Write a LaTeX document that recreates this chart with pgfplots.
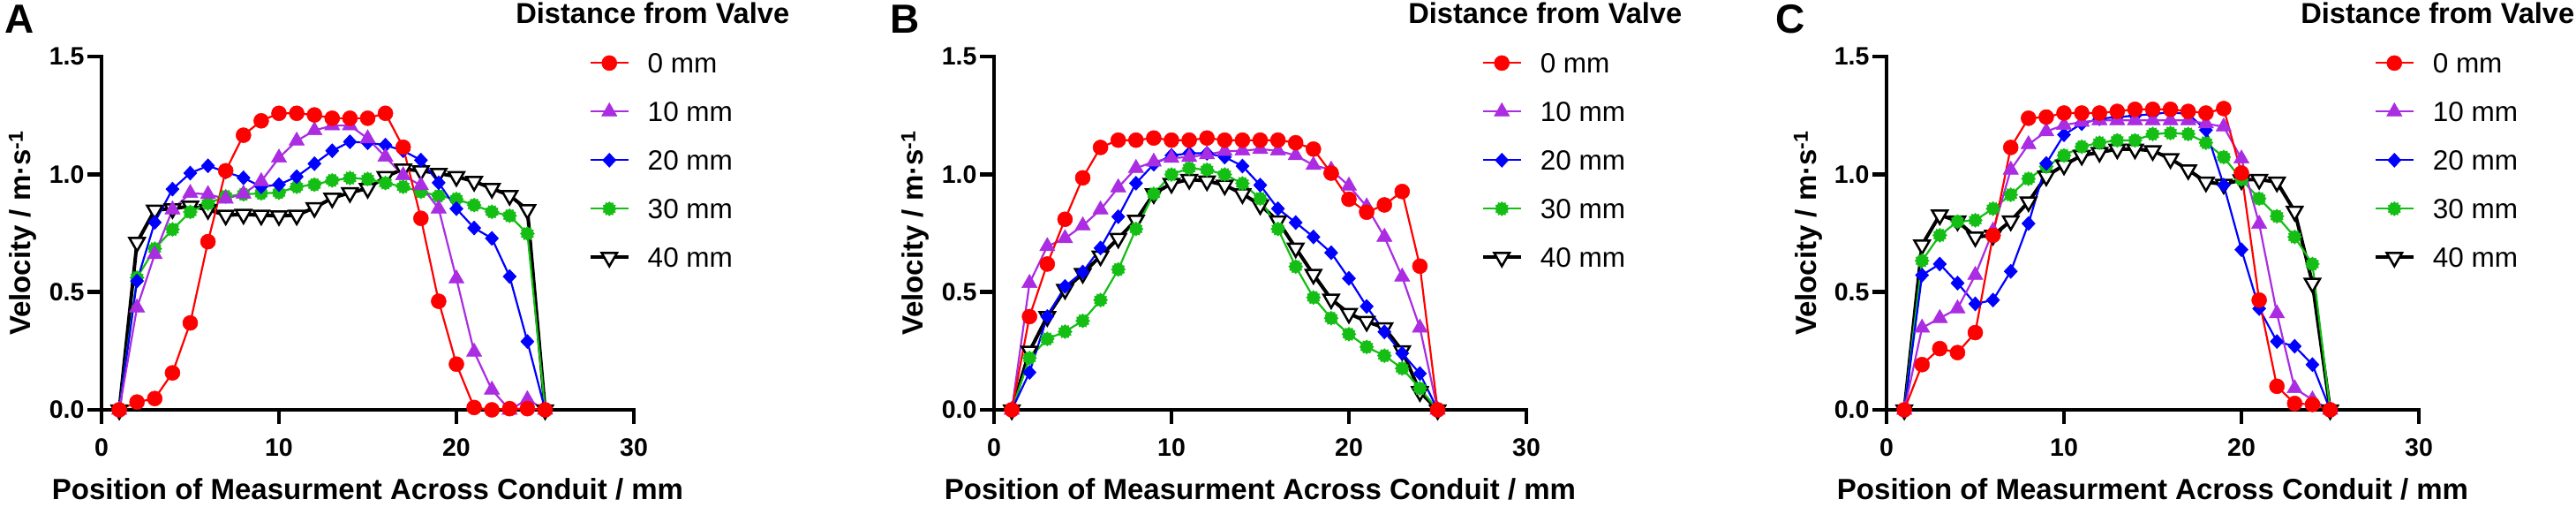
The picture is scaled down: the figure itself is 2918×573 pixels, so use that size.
\documentclass[border=0pt]{standalone}
\usepackage{pgfplots}
\usepackage{pgfplotstable}
\pgfplotsset{compat=1.18}
\usepackage{fontspec}
\setmainfont{Liberation Sans}
\definecolor{cred}{RGB}{255,0,0}
\definecolor{cpur}{RGB}{170,45,225}
\definecolor{cblu}{RGB}{0,0,255}
\definecolor{cgrn}{RGB}{20,190,20}

\pgfdeclareplotmark{burst}{%
  \pgfpathmoveto{\pgfpointpolar{0}{\pgfplotmarksize}}%
  \pgfpathlineto{\pgfpointpolar{15}{0.8\pgfplotmarksize}}%
  \pgfpathlineto{\pgfpointpolar{30}{\pgfplotmarksize}}%
  \pgfpathlineto{\pgfpointpolar{45}{0.8\pgfplotmarksize}}%
  \pgfpathlineto{\pgfpointpolar{60}{\pgfplotmarksize}}%
  \pgfpathlineto{\pgfpointpolar{75}{0.8\pgfplotmarksize}}%
  \pgfpathlineto{\pgfpointpolar{90}{\pgfplotmarksize}}%
  \pgfpathlineto{\pgfpointpolar{105}{0.8\pgfplotmarksize}}%
  \pgfpathlineto{\pgfpointpolar{120}{\pgfplotmarksize}}%
  \pgfpathlineto{\pgfpointpolar{135}{0.8\pgfplotmarksize}}%
  \pgfpathlineto{\pgfpointpolar{150}{\pgfplotmarksize}}%
  \pgfpathlineto{\pgfpointpolar{165}{0.8\pgfplotmarksize}}%
  \pgfpathlineto{\pgfpointpolar{180}{\pgfplotmarksize}}%
  \pgfpathlineto{\pgfpointpolar{195}{0.8\pgfplotmarksize}}%
  \pgfpathlineto{\pgfpointpolar{210}{\pgfplotmarksize}}%
  \pgfpathlineto{\pgfpointpolar{225}{0.8\pgfplotmarksize}}%
  \pgfpathlineto{\pgfpointpolar{240}{\pgfplotmarksize}}%
  \pgfpathlineto{\pgfpointpolar{255}{0.8\pgfplotmarksize}}%
  \pgfpathlineto{\pgfpointpolar{270}{\pgfplotmarksize}}%
  \pgfpathlineto{\pgfpointpolar{285}{0.8\pgfplotmarksize}}%
  \pgfpathlineto{\pgfpointpolar{300}{\pgfplotmarksize}}%
  \pgfpathlineto{\pgfpointpolar{315}{0.8\pgfplotmarksize}}%
  \pgfpathlineto{\pgfpointpolar{330}{\pgfplotmarksize}}%
  \pgfpathlineto{\pgfpointpolar{345}{0.8\pgfplotmarksize}}%
  \pgfpathclose
  \pgfusepathqfillstroke
}

\pgfplotstableread{
x r p b g k
1 0 0 0 0 0
2 0.033 0.434 0.547 0.561 0.711
3 0.048 0.66 0.796 0.684 0.848
4 0.157 0.85 0.937 0.766 0.854
5 0.369 0.92 1.005 0.84 0.865
6 0.714 0.915 1.036 0.876 0.85
7 1.015 0.896 1.01 0.906 0.826
8 1.166 0.917 0.985 0.915 0.83
9 1.227 0.97 0.947 0.919 0.826
10 1.259 1.07 0.956 0.922 0.824
11 1.259 1.142 0.99 0.947 0.826
12 1.252 1.186 1.045 0.956 0.858
13 1.238 1.207 1.1 0.974 0.899
14 1.238 1.207 1.138 0.984 0.922
15 1.238 1.152 1.134 0.98 0.94
16 1.259 1.074 1.124 0.963 0.99
17 1.115 0.995 1.10 0.947 1.022
18 0.813 0.953 1.06 0.926 1.015
19 0.461 0.854 0.964 0.908 1.004
20 0.194 0.557 0.854 0.895 0.99
21 0.01 0.246 0.772 0.869 0.97
22 0 0.085 0.728 0.841 0.94
23 0.005 0 0.566 0.824 0.91
24 0.005 0.044 0.29 0.748 0.85
25 0 0 0 0 0
}\dataA

\pgfplotstableread{
x r p b g k
1 0 0 0 0 0
2 0.396 0.538 0.159 0.22 0.249
3 0.619 0.694 0.396 0.301 0.396
4 0.809 0.728 0.524 0.332 0.511
5 0.985 0.782 0.585 0.378 0.579
6 1.114 0.85 0.687 0.466 0.653
7 1.145 0.944 0.82 0.596 0.728
8 1.145 1.026 0.962 0.768 0.805
9 1.154 1.053 1.043 0.917 0.917
10 1.145 1.069 1.08 0.999 0.961
11 1.145 1.073 1.089 1.026 0.978
12 1.154 1.084 1.089 1.019 0.972
13 1.145 1.098 1.073 0.999 0.954
14 1.145 1.1 1.035 0.961 0.917
15 1.145 1.107 0.954 0.897 0.87
16 1.145 1.1 0.854 0.768 0.802
17 1.134 1.08 0.795 0.608 0.687
18 1.107 1.039 0.734 0.477 0.575
19 1.005 1.019 0.667 0.389 0.47
20 0.894 0.951 0.558 0.321 0.409
21 0.839 0.863 0.439 0.267 0.375
22 0.87 0.734 0.331 0.23 0.348
23 0.927 0.565 0.24 0.176 0.251
24 0.61 0.348 0.154 0.091 0.077
25 0 0 0 0 0
}\dataB

\pgfplotstableread{
x r p b g k
1 0 0 0 0 0
2 0.192 0.348 0.572 0.633 0.70
3 0.26 0.389 0.619 0.741 0.827
4 0.243 0.43 0.538 0.799 0.802
5 0.328 0.572 0.45 0.805 0.734
6 0.741 0.76 0.466 0.854 0.741
7 1.114 1.019 0.588 0.913 0.802
8 1.238 1.127 0.791 0.981 0.883
9 1.243 1.182 1.046 1.033 0.992
10 1.26 1.209 1.168 1.08 1.039
11 1.26 1.222 1.215 1.117 1.08
12 1.26 1.229 1.236 1.134 1.093
13 1.267 1.229 1.243 1.144 1.107
14 1.276 1.229 1.249 1.144 1.107
15 1.276 1.229 1.256 1.171 1.10
16 1.276 1.229 1.263 1.175 1.066
17 1.267 1.229 1.256 1.171 1.019
18 1.26 1.215 1.188 1.134 0.967
19 1.279 1.202 0.954 1.073 0.958
20 1.005 1.066 0.68 0.978 0.976
21 0.466 0.789 0.43 0.897 0.978
22 0.10 0.409 0.29 0.822 0.967
23 0.027 0.091 0.27 0.734 0.843
24 0.023 0.043 0.192 0.619 0.538
25 0 0 0 0 0
}\dataC

\pgfplotsset{
  panel/.style={
    scale only axis, width=603pt, height=400pt,
    anchor=south west,
    xmin=0, xmax=30, ymin=0, ymax=1.5,
    axis lines=left,
    axis line style={-, line width=4.5pt, line cap=rect},
    xtick={0,10,20,30}, ytick={0,0.5,1,1.5},
    tick align=outside, major tick length=16pt,
    every tick/.style={black, line width=4.5pt},
    /pgf/number format/assume math mode=true,
    tick label style={font=\bfseries\fontsize{28.5}{28.5}\selectfont},
    xticklabel style={yshift=-13pt},
    yticklabel style={/pgf/number format/.cd, fixed, fixed zerofill, precision=1},
    clip=false,
    xlabel={Position of Measurment Across Conduit / mm},
    ylabel={Velocity / m·s\textsuperscript{-1}},
    label style={font=\bfseries\fontsize{33}{33}\selectfont},
    xlabel style={at={(axis description cs:0.5,-0.2525)}, anchor=base},
    ylabel style={at={(axis description cs:-0.1327,0.5)}, anchor=base},
    legend style={at={(axis description cs:0.915,1.009)}, anchor=north west,
      draw=none, fill=none, inner sep=0pt, outer sep=0pt, row sep=33pt,
      font=\fontsize{31.5}{31.5}\selectfont,
      nodes={inner sep=0pt, text height=22pt, text depth=0pt},
      /tikz/every odd column/.append style={column sep=20pt}},
    legend cell align=left,
    reverse legend,
    legend image code/.code={\draw[mark repeat=2,mark phase=2,#1] plot coordinates {(0pt,0pt) (21.5pt,0pt) (43pt,0pt)};},
  },
  s40/.style={black, line width=4pt, mark=triangle*, mark size=10pt, mark options={rotate=180, fill=white, draw=black, line width=2.5pt}},
  s30/.style={cgrn, line width=2.2pt, mark=burst, mark size=8pt, mark options={fill=cgrn, draw=cgrn, line width=0.5pt}},
  s20/.style={cblu, line width=2.2pt, mark=diamond*, mark size=8pt, mark options={xscale=1.25, fill=cblu, draw=cblu, line width=0.5pt}},
  s10/.style={cpur, line width=2.2pt, mark=triangle*, mark size=10pt, mark options={fill=cpur, draw=cpur, line width=0.5pt}},
  s0/.style={cred, line width=2.2pt, mark=*, mark size=8.5pt, mark options={fill=cred, draw=cred, line width=0.5pt}},
}

\newcommand{\panelcontent}[3]{%
  \addplot[s40] table[x=x,y=k] {#1}; \addlegendentry{40 mm}
  \addplot[s30] table[x=x,y=g] {#1}; \addlegendentry{30 mm}
  \addplot[s20] table[x=x,y=b] {#1}; \addlegendentry{20 mm}
  \addplot[s10] table[x=x,y=p] {#1}; \addlegendentry{10 mm}
  \addplot[s0] table[x=x,y=r] {#1}; \addlegendentry{0 mm}
  \node[anchor=base west, font=\bfseries\fontsize{32.6}{32.6}\selectfont] at (axis description cs:0.7725,1.0925) {Distance from Valve};
  \node[anchor=base west, font=\bfseries\fontsize{46}{46}\selectfont] at (axis description cs:#3,1.065) {#2};
}

\begin{document}
\begin{tikzpicture}
\useasboundingbox (0pt,0pt) rectangle (2918pt,573pt);
\begin{axis}[panel, at={(115pt,109pt)}]
\panelcontent{\dataA}{A}{-0.187}
\end{axis}
\begin{axis}[panel, at={(1126pt,109pt)}]
\panelcontent{\dataB}{B}{-0.2}
\end{axis}
\begin{axis}[panel, at={(2137pt,109pt)}]
\panelcontent{\dataC}{C}{-0.214}
\end{axis}
\end{tikzpicture}
\end{document}
